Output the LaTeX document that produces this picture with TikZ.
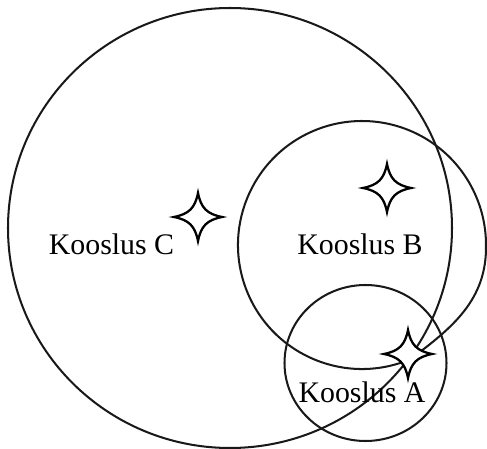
\documentclass[tikz,border=0pt]{standalone}
\usepackage{fontspec}
\setmainfont{Liberation Serif}

\begin{document}
\begin{tikzpicture}[x=0.02cm,y=-0.02cm,
  ring/.style={draw=black!90,line width=1.15pt},
  lab/.style={font=\fontsize{17}{18}\selectfont,anchor=base,inner sep=0pt},
  sparkle/.pic={\draw[line width=1.3pt,fill=white]
    (0,-24) .. controls (3,-9) and (9,-3) .. (24,0)
    .. controls (9,3) and (3,9) .. (0,24)
    .. controls (-3,9) and (-9,3) .. (-24,0)
    .. controls (-9,-3) and (-3,-9) .. cycle;},
]
\useasboundingbox (0,0) rectangle (487,449);
% the three communities
\draw[ring] (230,228) ellipse [x radius=222,y radius=220];
\draw[ring] (362,245) ++(67:124) arc[start angle=67,end angle=360,radius=124]
  .. controls (487,300) and (452,328) .. cycle;
\draw[ring] (365.5,363) ellipse [x radius=81,y radius=78];
% stars
\pic at (198,217) {sparkle};
\pic at (387,188) {sparkle};
\pic at (408,354) {sparkle};
% labels
\node[lab] (labC) at (111.5,255) {Kooslus C};
\node[lab] (labB) at (360,255) {Kooslus B};
\node[lab] (labA) at (362,402) {Kooslus A};
\end{tikzpicture}
\end{document}
